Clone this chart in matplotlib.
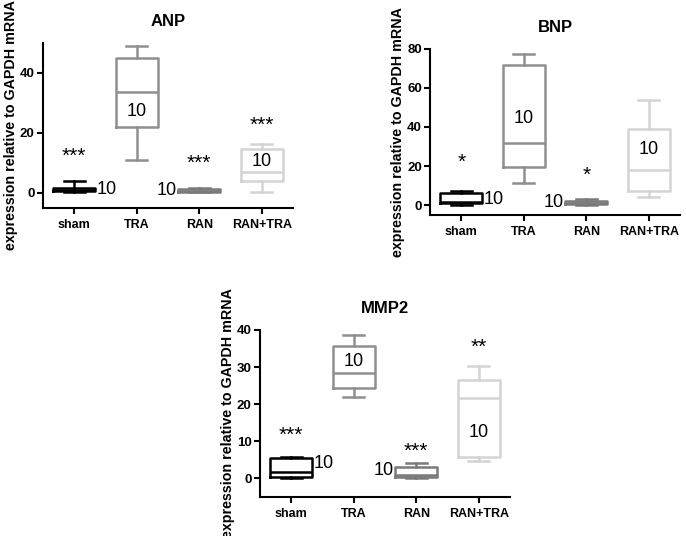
import matplotlib.pyplot as plt

plt.rcParams['font.family'] = ['Liberation Sans', 'DejaVu Sans']

groups = ['sham', 'TRA', 'RAN', 'RAN+TRA']
colors = ['#000000', '#8f8f8f', '#7a7a7a', '#d4d4d4']
ylabel = 'expression relative to GAPDH mRNA'

# ANP
anp_lo = [0.2, 10.9, 0.2, 0.4]
anp_q1 = [0.5, 22.1, 0.4, 4.1]
anp_med = [1.0, 33.6, 0.8, 6.9]
anp_q3 = [1.8, 44.8, 1.2, 14.6]
anp_hi = [3.9, 48.9, 1.6, 16.3]
anp_stars = ['***', '', '***', '***']
anp_star_y = [12.2, 0, 10.0, 22.4]
anp_n_y = [1.0, 27.0, 0.8, 10.6]

# BNP
bnp_lo = [0.0, 11.1, 0.2, 4.3]
bnp_q1 = [0.9, 19.7, 0.5, 7.2]
bnp_med = [1.5, 32.0, 1.2, 17.9]
bnp_q3 = [6.3, 71.5, 2.2, 38.8]
bnp_hi = [7.4, 77.4, 3.0, 53.7]
bnp_stars = ['*', '', '*', '']
bnp_star_y = [21.9, 0, 15.4, 0]
bnp_n_y = [3.0, 44.4, 1.2, 28.7]

# MMP2
mmp_lo = [0.0, 21.9, 0.1, 4.8]
mmp_q1 = [0.5, 24.3, 0.5, 5.9]
mmp_med = [1.8, 28.5, 1.0, 21.6]
mmp_q3 = [5.6, 35.7, 3.2, 26.4]
mmp_hi = [5.8, 38.7, 4.1, 30.3]
mmp_stars = ['***', '', '***', '**']
mmp_star_y = [11.7, 0, 7.4, 35.2]
mmp_n_y = [3.9, 31.5, 2.2, 12.5]

n = [10, 10, 10, 10]


def panel(rect, title, lo, q1, med, q3, hi, stars, star_y, n_y, ylim, yticks):
    ax = fig.add_axes(rect)
    for i in range(4):
        st = [dict(whislo=lo[i], q1=q1[i], med=med[i], q3=q3[i], whishi=hi[i], fliers=[])]
        ln = dict(color=colors[i], linewidth=1.8)
        ax.bxp(st, positions=[i + 1], widths=0.67, showfliers=False,
               boxprops=ln, whiskerprops=ln, capprops=ln, medianprops=ln)
        if stars[i]:
            ax.text(i + 1, star_y[i], stars[i], ha='center', va='center', fontsize=15)
        if i == 0:
            ax.text(i + 1.355, n_y[i], str(n[i]), ha='left', va='center', fontsize=13)
        elif i == 2:
            ax.text(i + 0.645, n_y[i], str(n[i]), ha='right', va='center', fontsize=13)
        else:
            ax.text(i + 1, n_y[i], str(n[i]), ha='center', va='center', fontsize=13)
    ax.set_xlim(0.5, 4.5)
    ax.set_ylim(*ylim)
    ax.set_yticks(yticks)
    ax.set_xticks([1, 2, 3, 4])
    ax.set_xticklabels(groups, fontweight='bold', fontsize=9)
    for lab in ax.get_yticklabels():
        lab.set_fontweight('bold')
        lab.set_fontsize(9.5)
    ax.spines['top'].set_visible(False)
    ax.spines['right'].set_visible(False)
    ax.spines['left'].set_linewidth(1.5)
    ax.spines['bottom'].set_linewidth(1.5)
    ax.tick_params(width=1.5, length=4, pad=2)
    ax.tick_params(axis='x', pad=4)
    ax.set_title(title, fontweight='bold', fontsize=12, pad=12)
    ax.set_ylabel(ylabel, fontweight='bold', fontsize=10.3)
    ax.yaxis.set_label_coords(-0.1, 0.5)
    return ax


fig = plt.figure(figsize=(6.86, 5.36), dpi=100)
panel([0.0627, 0.612, 0.3644, 0.308], 'ANP', anp_lo, anp_q1, anp_med, anp_q3, anp_hi,
      anp_stars, anp_star_y, anp_n_y, (-5, 50), [0, 20, 40])
panel([0.627, 0.599, 0.3644, 0.31], 'BNP', bnp_lo, bnp_q1, bnp_med, bnp_q3, bnp_hi,
      bnp_stars, bnp_star_y, bnp_n_y, (-5, 80), [0, 20, 40, 60, 80])
panel([0.379, 0.0728, 0.3644, 0.3116], 'MMP2', mmp_lo, mmp_q1, mmp_med, mmp_q3, mmp_hi,
      mmp_stars, mmp_star_y, mmp_n_y, (-5, 40), [0, 10, 20, 30, 40])

fig.savefig('out.png', dpi=100)
